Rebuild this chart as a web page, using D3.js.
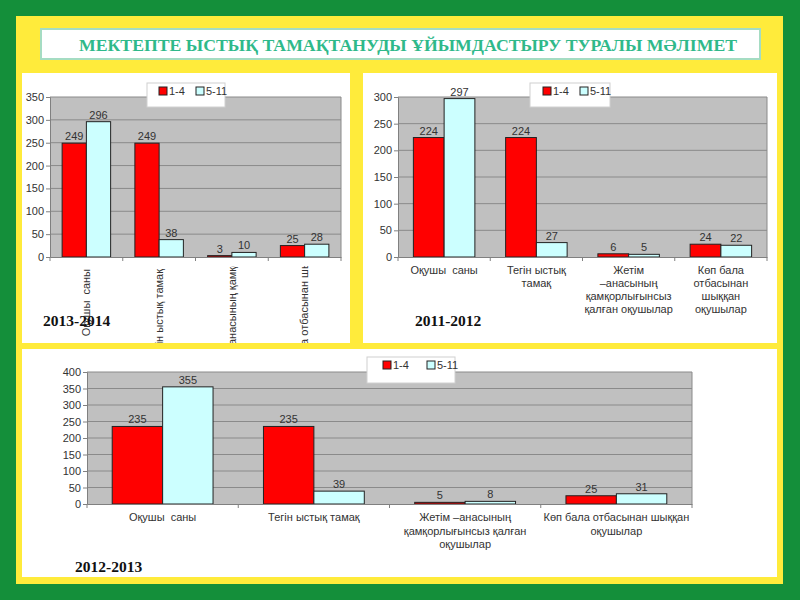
<!DOCTYPE html>
<html>
<head>
<meta charset="utf-8">
<script src="https://cdn.jsdelivr.net/npm/d3@7/dist/d3.min.js"></script>
<style>
body { margin: 0; background: #148f3a; }
svg { display: block; }
</style>
</head>
<body>
<svg id="slide" width="800" height="600"></svg>
<script>
var titleText = "МЕКТЕПТЕ ЫСТЫҚ ТАМАҚТАНУДЫ ҰЙЫМДАСТЫРУ ТУРАЛЫ МӘЛІМЕТ";
var seriesNames = ["1-4", "5-11"];
var categories = ["Оқушы  саны", "Тегін ыстық тамақ", "Жетім –анасының қамқорлығынсыз қалған оқушылар", "Көп бала отбасынан шыққан оқушылар"];

var values2013_14 = [249, 249, 3, 25];
var values2013_511 = [296, 38, 10, 28];
var ticks2013 = [0, 50, 100, 150, 200, 250, 300, 350];

var values2011_14 = [224, 224, 6, 24];
var values2011_511 = [297, 27, 5, 22];
var ticks2011 = [0, 50, 100, 150, 200, 250, 300];
var lines2011 = [["Оқушы  саны"], ["Тегін ыстық", "тамақ"], ["Жетім", "–анасының", "қамқорлығынсыз", "қалған оқушылар"], ["Көп бала", "отбасынан", "шыққан", "оқушылар"]];

var values2012_14 = [235, 235, 5, 25];
var values2012_511 = [355, 39, 8, 31];
var ticks2012 = [0, 50, 100, 150, 200, 250, 300, 350, 400];
var lines2012 = [["Оқушы  саны"], ["Тегін ыстық тамақ"], ["Жетім –анасының", "қамқорлығынсыз қалған", "оқушылар"], ["Көп бала отбасынан шыққан", "оқушылар"]];

var colors = ["#ff0000", "#ccffff"];
var textColor = "#333333";
var font = "Arial, 'Liberation Sans', sans-serif";

var svg = d3.select("#slide");

svg.append("rect").attr("x", 0).attr("y", 0).attr("width", 800).attr("height", 600).attr("fill", "#148f3a");
svg.append("rect").attr("x", 16).attr("y", 16).attr("width", 767).attr("height", 568).attr("fill", "#ffeb3b");

svg.append("rect")
    .attr("x", 41).attr("y", 29).attr("width", 719).attr("height", 30)
    .attr("fill", "#ffffff").attr("stroke", "#a5dcc3").attr("stroke-width", 2);
svg.append("text")
    .attr("x", 79).attr("y", 51)
    .attr("textLength", 658).attr("lengthAdjust", "spacingAndGlyphs")
    .style("font-family", "'Liberation Serif', 'Times New Roman', serif")
    .style("font-weight", "bold")
    .style("font-size", "17.5px")
    .attr("fill", "#2fb98a")
    .text(titleText);

var panels = [[22, 73, 328, 270], [363, 73, 414, 270], [22, 349, 755, 228]];
panels.forEach(function (p) {
    svg.append("rect").attr("x", p[0]).attr("y", p[1]).attr("width", p[2]).attr("height", p[3]).attr("fill", "#ffffff");
});

function drawChart(opt) {
    var g = svg.append("g");
    var x = d3.scaleBand().domain(d3.range(categories.length)).range([opt.left, opt.right]);
    var y = d3.scaleLinear().domain([0, opt.ticks[opt.ticks.length - 1]]).range([opt.bottom, opt.top]);
    var bw = x.bandwidth() / 3;

    g.append("rect")
        .attr("x", opt.left).attr("y", opt.top)
        .attr("width", opt.right - opt.left).attr("height", opt.bottom - opt.top)
        .attr("fill", "#c0c0c0");

    g.selectAll(".grid").data(opt.ticks.slice(1)).enter().append("line")
        .attr("x1", opt.left).attr("x2", opt.right)
        .attr("y1", function (d) { return y(d); }).attr("y2", function (d) { return y(d); })
        .attr("stroke", "#8a8a8a").attr("stroke-width", 1);
    g.append("line")
        .attr("x1", opt.right).attr("x2", opt.right).attr("y1", opt.top).attr("y2", opt.bottom)
        .attr("stroke", "#8a8a8a");

    [opt.s1, opt.s2].forEach(function (vals, si) {
        g.selectAll(".bar" + si).data(vals).enter().append("rect")
            .attr("x", function (d, i) { return x(i) + bw / 2 + si * bw; })
            .attr("y", function (d) { return y(d); })
            .attr("width", bw)
            .attr("height", function (d) { return opt.bottom - y(d); })
            .attr("fill", colors[si])
            .attr("stroke", "#222").attr("stroke-width", 1);
        g.selectAll(".val" + si).data(vals).enter().append("text")
            .attr("x", function (d, i) { return x(i) + bw + si * bw; })
            .attr("y", function (d) { return y(d) - 3; })
            .attr("text-anchor", "middle")
            .style("font-family", font).style("font-size", "11px")
            .attr("fill", textColor)
            .text(function (d) { return d; });
    });

    var yAxis = g.append("g")
        .attr("transform", "translate(" + opt.left + ",0)")
        .call(d3.axisLeft(y).tickValues(opt.ticks).tickSize(4).tickPadding(2));
    var xAxis = g.append("g")
        .attr("transform", "translate(0," + opt.bottom + ")")
        .call(d3.axisBottom(x).tickValues([]).tickSizeOuter(0));
    xAxis.selectAll(".sep").data(d3.range(categories.length + 1)).enter().append("line")
        .attr("x1", function (i) { return opt.left + i * x.step(); })
        .attr("x2", function (i) { return opt.left + i * x.step(); })
        .attr("y1", 0).attr("y2", 4).attr("stroke", "#808080");
    [yAxis, xAxis].forEach(function (a) {
        a.select(".domain").attr("stroke", "#808080");
        a.selectAll(".tick line").attr("stroke", "#808080");
        a.selectAll("text").style("font-family", font).style("font-size", "11px").attr("fill", textColor);
    });

    if (opt.lines) {
        opt.lines.forEach(function (lines, i) {
            var t = g.append("text")
                .attr("text-anchor", "middle")
                .style("font-family", font).style("font-size", "11px")
                .style("white-space", "pre")
                .attr("fill", textColor);
            lines.forEach(function (ln, k) {
                t.append("tspan")
                    .attr("x", x(i) + x.bandwidth() / 2)
                    .attr("y", opt.labelY + k * opt.lineH)
                    .text(ln);
            });
        });
    } else {
        var clipId = "clip" + opt.name;
        svg.append("clipPath").attr("id", clipId).append("rect")
            .attr("x", opt.left - 30).attr("y", opt.bottom + 9)
            .attr("width", opt.right - opt.left + 30).attr("height", opt.clipBottom - opt.bottom - 9);
        var lg = g.append("g").attr("clip-path", "url(#" + clipId + ")");
        categories.forEach(function (c, i) {
            var t = lg.append("text")
                .attr("dy", "0.35em")
                .style("font-family", font).style("font-size", "11px")
                .style("white-space", "pre")
                .attr("fill", textColor)
                .text(c);
            var len = t.node().getComputedTextLength();
            var cx = x(i) + x.bandwidth() / 2;
            if (len <= opt.maxLen) {
                t.attr("text-anchor", "end").attr("transform", "translate(" + cx + "," + (opt.bottom + 12) + ") rotate(-90)");
            } else {
                t.attr("text-anchor", "start").attr("transform", "translate(" + cx + "," + (opt.bottom + 12 + opt.maxLen) + ") rotate(-90)");
            }
        });
    }

    var lgd = opt.legend;
    g.append("rect")
        .attr("x", lgd.x).attr("y", lgd.y).attr("width", lgd.w).attr("height", lgd.h)
        .attr("fill", "#ffffff").attr("stroke", "#d0d0d0");
    seriesNames.forEach(function (s, si) {
        var lx = lgd.x + lgd.items[si];
        g.append("rect")
            .attr("x", lx).attr("y", lgd.y + 4).attr("width", 8).attr("height", 8)
            .attr("fill", colors[si]).attr("stroke", "#222");
        g.append("text")
            .attr("x", lx + 10).attr("y", lgd.y + 12)
            .style("font-family", font).style("font-size", "11px")
            .attr("fill", textColor)
            .text(s);
    });

    g.append("text")
        .attr("x", opt.yearX).attr("y", opt.yearY)
        .style("font-family", "'Liberation Serif', 'Times New Roman', serif")
        .style("font-weight", "bold").style("font-size", "15.5px")
        .attr("fill", "#111")
        .text(opt.name);
}

drawChart({
    name: "2013-2014", left: 50, right: 341, top: 97, bottom: 257,
    ticks: ticks2013, s1: values2013_14, s2: values2013_511,
    maxLen: 116, clipBottom: 343,
    legend: { x: 147, y: 83, w: 78, h: 24, items: [12, 49] },
    yearX: 43, yearY: 326
});

drawChart({
    name: "2011-2012", left: 398, right: 767, top: 97, bottom: 257,
    ticks: ticks2011, s1: values2011_14, s2: values2011_511,
    lines: lines2011, labelY: 274, lineH: 13,
    legend: { x: 530, y: 83, w: 80, h: 24, items: [13, 50] },
    yearX: 415, yearY: 326
});

drawChart({
    name: "2012-2013", left: 87, right: 692, top: 372, bottom: 504,
    ticks: ticks2012, s1: values2012_14, s2: values2012_511,
    lines: lines2012, labelY: 521, lineH: 13.5,
    legend: { x: 367, y: 357, w: 88, h: 26, items: [16, 60] },
    yearX: 75, yearY: 572
});
</script>
</body>
</html>
